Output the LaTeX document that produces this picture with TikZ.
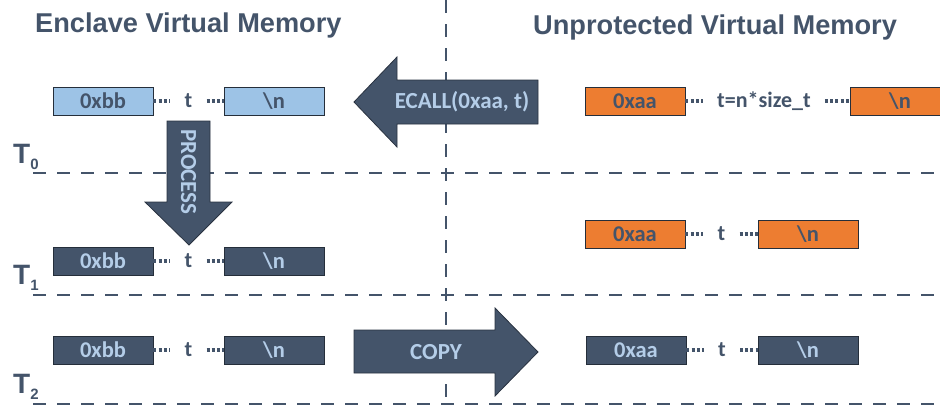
\documentclass[tikz,border=0pt]{standalone}
\usepackage{fontspec}
\setmainfont{Carlito}
\newfontfamily\headfont{Liberation Sans}
\definecolor{slate}{HTML}{44546A}
\definecolor{encblue}{HTML}{9DC3E6}
\definecolor{paleblue}{HTML}{B4CDE8}
\definecolor{unporange}{HTML}{ED7D31}
\newcommand{\tstep}[1]{T\raisebox{-6pt}{\fontsize{15}{15}\selectfont #1}}
\tikzset{
  mem/.style={draw=slate!55!black, line width=0.8pt, minimum width=100pt, minimum height=28pt,
    inner sep=0pt, font=\fontsize{22.5}{22.5}\selectfont\bfseries},
  enc/.style={mem, fill=encblue, text=slate},
  unp/.style={mem, fill=unporange, text=slate},
  done/.style={mem, fill=slate, text=paleblue},
  gap/.style={inner xsep=14pt, inner ysep=0pt, text=slate, font=\fontsize{22}{22}\selectfont\bfseries},
  dots/.style={slate, line width=3.2pt, dash pattern=on 3pt off 2.2pt},
  sep/.style={slate, line width=2.8pt, dash pattern=on 13pt off 11pt},
  bigarrow/.style={fill=slate, draw=slate!60!black, line width=0.8pt},
  arrowtext/.style={text=paleblue, inner sep=0pt, font=\fontsize{23}{23}\selectfont\bfseries},
  title/.style={anchor=base west, text=slate, inner sep=0pt, font=\headfont\fontsize{27.2}{27.2}\selectfont\bfseries},
  tlab/.style={anchor=base west, text=slate, inner sep=0pt, font=\headfont\fontsize{28}{28}\selectfont\bfseries},
}
\begin{document}
\begin{tikzpicture}[x=1pt, y=-1pt]
\clip (0,0) rectangle (940,407);
% separators
\draw[sep] (446,0) -- (446,407);
\foreach \y in {173,295,404} { \draw[sep] (33,\y) -- (940,\y); }
% titles and time steps
\node[title] (enclave) at (35,32) {Enclave Virtual Memory};
\node[title] (unprot) at (533,34) {Unprotected Virtual Memory};
\node[tlab] (t0) at (13,163) {\tstep{0}};
\node[tlab] (t1) at (13,284) {\tstep{1}};
\node[tlab] (t2) at (13,393) {\tstep{2}};
% T0
\node[enc] (e0a) at (103,101) {0xbb};
\node[enc] (e0b) at (274,101) {\textbackslash n};
\node[gap] (e0t) at (188.5,101) {t};
\draw[dots] (e0a.east) -- (e0t.west);
\draw[dots] (e0t.east) -- (e0b.west);
\node[unp] (u0a) at (635,101) {0xaa};
\node[unp] (u0b) at (900,101) {\textbackslash n};
\node[gap] (u0t) at (764,101) {t=n*size\_t};
\draw[dots] (u0a.east) -- (u0t.west);
\draw[dots] (u0t.east) -- (u0b.west);
% T1
\node[done] (e1a) at (103,261) {0xbb};
\node[done] (e1b) at (274,261) {\textbackslash n};
\node[gap] (e1t) at (188.5,261) {t};
\draw[dots] (e1a.east) -- (e1t.west);
\draw[dots] (e1t.east) -- (e1b.west);
\node[unp] (u1a) at (635,234) {0xaa};
\node[unp] (u1b) at (808,234) {\textbackslash n};
\node[gap] (u1t) at (721.5,234) {t};
\draw[dots] (u1a.east) -- (u1t.west);
\draw[dots] (u1t.east) -- (u1b.west);
% T2
\node[done] (e2a) at (103,350) {0xbb};
\node[done] (e2b) at (274,350) {\textbackslash n};
\node[gap] (e2t) at (188.5,350) {t};
\draw[dots] (e2a.east) -- (e2t.west);
\draw[dots] (e2t.east) -- (e2b.west);
\node[done] (u2a) at (636,350) {0xaa};
\node[done] (u2b) at (808,350) {\textbackslash n};
\node[gap] (u2t) at (722,350) {t};
\draw[dots] (u2a.east) -- (u2t.west);
\draw[dots] (u2t.east) -- (u2b.west);
% big arrows
\draw[bigarrow] (538,80) -- (397,80) -- (397,57) -- (354,102) -- (397,147) -- (397,124) -- (538,124) -- cycle;
\node[arrowtext] (ecall) at (462,102) {ECALL(0xaa, t)};
\draw[bigarrow] (167,121) -- (210,121) -- (210,202) -- (232,202) -- (189,245) -- (145,202) -- (167,202) -- cycle;
\node[arrowtext, rotate=-90] (process) at (188.5,172) {PROCESS};
\draw[bigarrow] (354,330) -- (495,330) -- (495,308) -- (538,352) -- (495,396) -- (495,373) -- (354,373) -- cycle;
\node[arrowtext] (copy) at (436,352) {COPY};
\end{tikzpicture}
\end{document}
